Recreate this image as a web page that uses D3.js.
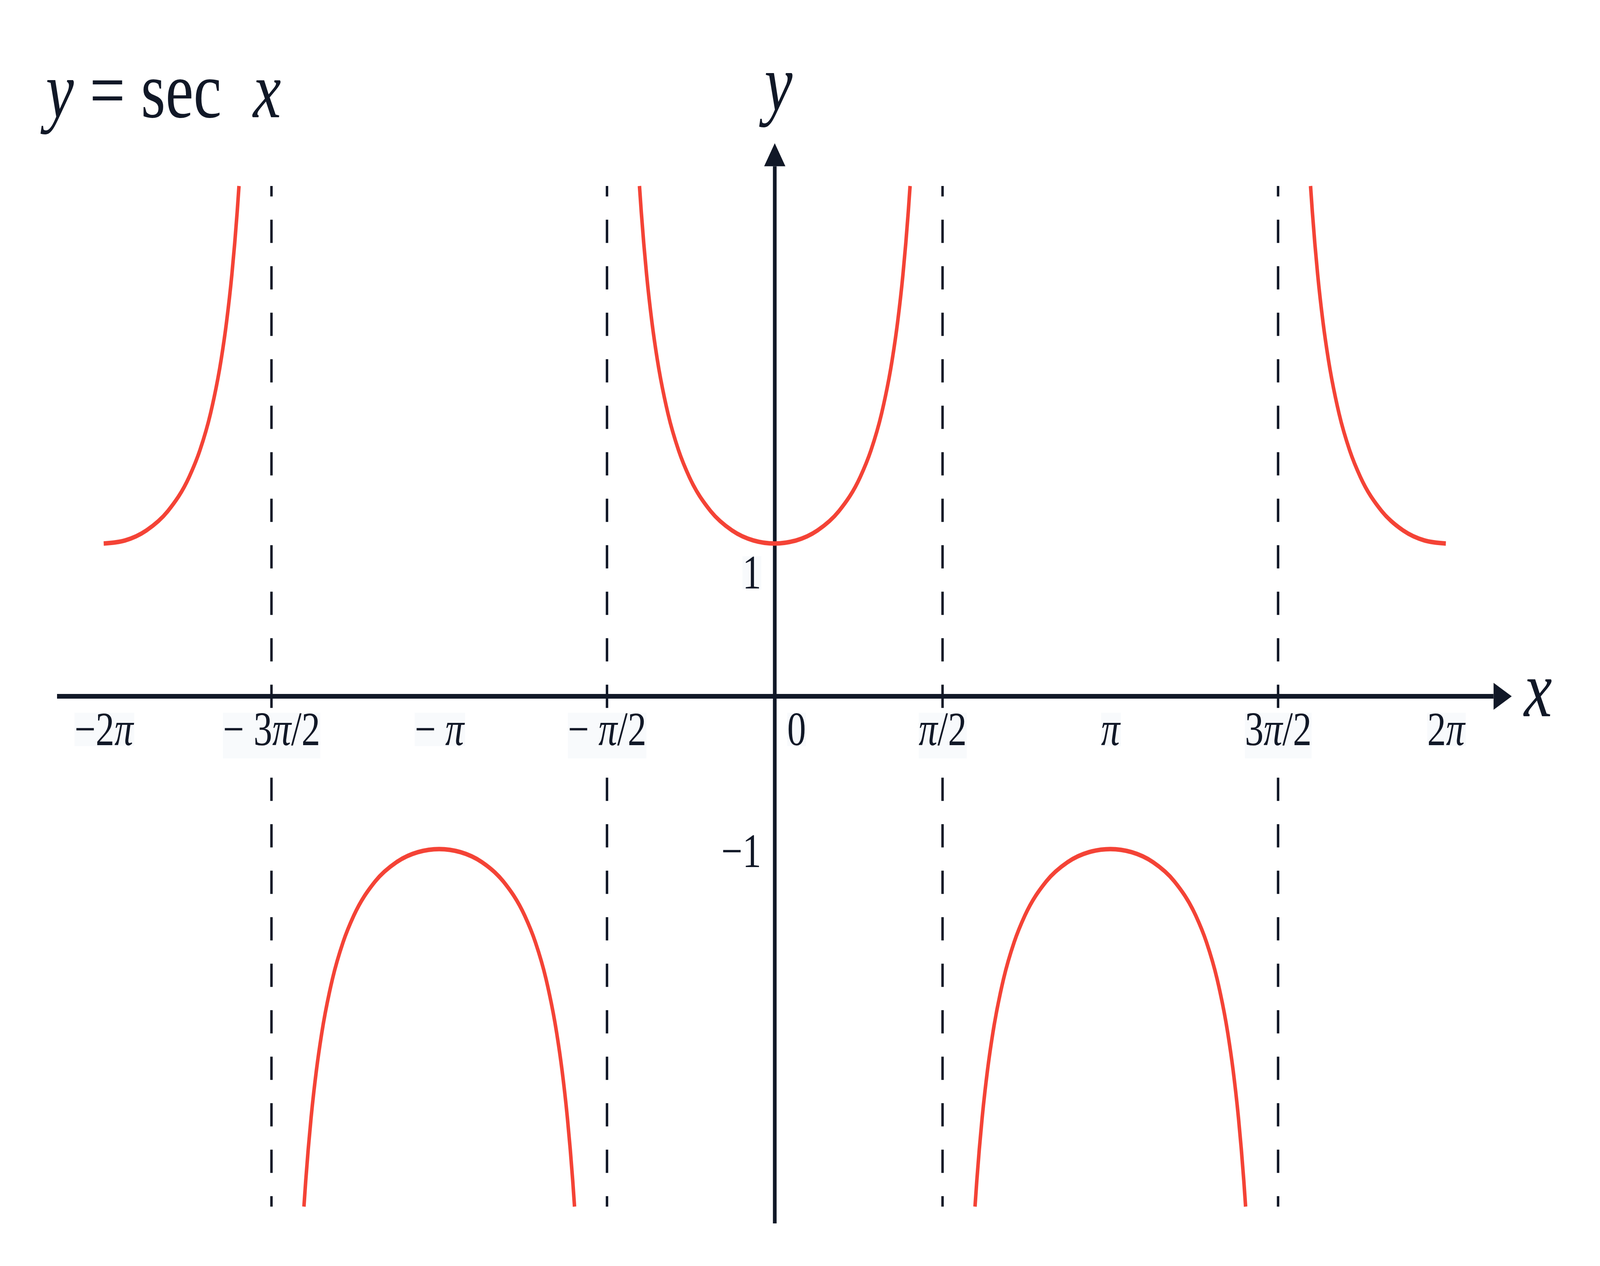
<!DOCTYPE html>
<html>
<head>
<meta charset="utf-8">
<title>y = sec x</title>
<script src="https://cdn.jsdelivr.net/npm/d3@7"></script>
<style>
html,body{margin:0;padding:0;background:#fff;width:100%;height:100%;overflow:hidden;}
#chart{width:100vw;height:100vh;}
svg{display:block;width:100%;height:100%;}
text{font-family:"Liberation Serif","DejaVu Serif",serif;fill:#111827;white-space:pre;}
</style>
</head>
<body>
<div id="chart"></div>
<script>
// y = sec x as [x (radians), y] pairs, one array per branch
const secLeftHalf = [[-6.2832,1],[-6.0832,1.0203],[-5.8832,1.0857],[-5.6832,1.2116],[-5.4832,1.4353],[-5.3832,1.6087],[-5.2832,1.8508],[-5.1832,2.2046],[-5.1332,2.4481],[-5.0832,2.7597],[-5.0332,3.1714],[-5.0164,3.34]];
const secLowerLeft = [[-4.4084,-3.34],[-4.3916,-3.1714],[-4.3416,-2.7597],[-4.2916,-2.4481],[-4.2416,-2.2046],[-4.1416,-1.8508],[-4.0416,-1.6087],[-3.9416,-1.4353],[-3.7416,-1.2116],[-3.5416,-1.0857],[-3.3416,-1.0203],[-3.1416,-1],[-2.9416,-1.0203],[-2.7416,-1.0857],[-2.5416,-1.2116],[-2.3416,-1.4353],[-2.2416,-1.6087],[-2.1416,-1.8508],[-2.0416,-2.2046],[-1.9916,-2.4481],[-1.9416,-2.7597],[-1.8916,-3.1714],[-1.8748,-3.34]];
const secCentral = [[-1.2668,3.34],[-1.25,3.1714],[-1.2,2.7597],[-1.15,2.4481],[-1.1,2.2046],[-1.0,1.8508],[-0.9,1.6087],[-0.8,1.4353],[-0.6,1.2116],[-0.4,1.0857],[-0.2,1.0203],[0,1],[0.2,1.0203],[0.4,1.0857],[0.6,1.2116],[0.8,1.4353],[0.9,1.6087],[1.0,1.8508],[1.1,2.2046],[1.15,2.4481],[1.2,2.7597],[1.25,3.1714],[1.2668,3.34]];
const secLowerRight = [[1.8748,-3.34],[1.8916,-3.1714],[1.9416,-2.7597],[1.9916,-2.4481],[2.0416,-2.2046],[2.1416,-1.8508],[2.2416,-1.6087],[2.3416,-1.4353],[2.5416,-1.2116],[2.7416,-1.0857],[2.9416,-1.0203],[3.1416,-1],[3.3416,-1.0203],[3.5416,-1.0857],[3.7416,-1.2116],[3.9416,-1.4353],[4.0416,-1.6087],[4.1416,-1.8508],[4.2416,-2.2046],[4.2916,-2.4481],[4.3416,-2.7597],[4.3916,-3.1714],[4.4084,-3.34]];
const secRightHalf = [[5.0164,3.34],[5.0332,3.1714],[5.0832,2.7597],[5.1332,2.4481],[5.1832,2.2046],[5.2832,1.8508],[5.3832,1.6087],[5.4832,1.4353],[5.6832,1.2116],[5.8832,1.0857],[6.0832,1.0203],[6.2832,1]];

const asymptotes = [-4.7124,-1.5708,1.5708,4.7124];
const xTicks = [-6.2832,-4.7124,-3.1416,-1.5708,0,1.5708,3.1416,4.7124,6.2832];
const xTickLabels = ["−2π","− 3π/2","− π","− π/2","0","π/2","π","3π/2","2π"];
const yTicks = [1,-1];
const yTickLabels = ["1","−1"];
const xAxisExtent = [-6.72,6.90];
const yAxisExtent = [-3.45,3.62];
const yLimit = 3.34;

const W=5200,H=3240;
const INK="#111827", RED="#f44336", FS=122;

// the window may be narrower than 5200, so the 5200x3240 drawing is fitted to it
const svg=d3.select("#chart").append("svg").attr("viewBox",`0 0 ${W} ${H}`)
  .attr("preserveAspectRatio","none");
svg.append("rect").attr("width",W).attr("height",H).attr("fill","#fff");

const x=d3.scaleLinear().domain([-6.2832,6.2832]).range([337,4699]);
const y=d3.scaleLinear().domain([-yLimit,yLimit]).range([3088,476]);

// x, y and pi in italic like the math font
function mathText(t,s){
  t.text(null);
  s.match(/[πxy]|[^πxy]+/g).forEach(p=>t.append("tspan").attr("font-style",/[πxy]/.test(p)?"italic":null).text(p));
}

// asymptotes, dashed outward from the x axis so a dash sits on the axis
const dash=59.5;
asymptotes.forEach(a=>{
  [yLimit,-yLimit].forEach(end=>{
    svg.append("line").attr("x1",x(a)).attr("x2",x(a)).attr("y1",y(0)).attr("y2",y(end))
      .attr("stroke",INK).attr("stroke-width",8)
      .attr("stroke-dasharray",`${dash} ${dash}`).attr("stroke-dashoffset",dash/2);
  });
});

// axes with arrow heads
const head=59, half=34.5;
svg.append("line").attr("x1",x(xAxisExtent[0])).attr("x2",x(xAxisExtent[1])-head)
  .attr("y1",y(0)).attr("y2",y(0)).attr("stroke",INK).attr("stroke-width",12);
svg.append("path").attr("fill",INK).attr("d",()=>{
  const tx=x(xAxisExtent[1]), ty=y(0);
  return `M${tx},${ty}L${tx-head},${ty-half}L${tx-head},${ty+half}Z`;
});
svg.append("line").attr("x1",x(0)).attr("x2",x(0))
  .attr("y1",y(yAxisExtent[0])).attr("y2",y(yAxisExtent[1])+head).attr("stroke",INK).attr("stroke-width",12);
svg.append("path").attr("fill",INK).attr("d",()=>{
  const tx=x(0), ty=y(yAxisExtent[1]);
  return `M${tx},${ty}L${tx-half},${ty+head}L${tx+half},${ty+head}Z`;
});

// the curve
const line=d3.line().x(d=>x(d[0])).y(d=>y(d[1])).curve(d3.curveMonotoneX);
[secLeftHalf,secLowerLeft,secCentral,secLowerRight,secRightHalf].forEach(b=>{
  svg.append("path").datum(b).attr("fill","none").attr("stroke",RED)
    .attr("stroke-width",11.5).attr("d",line);
});

// x tick labels
const gx=svg.append("g").attr("transform",`translate(0,${y(0)})`)
  .call(d3.axisBottom(x).tickValues(xTicks).tickFormat((d,i)=>xTickLabels[i]).tickSize(0));
gx.select(".domain").remove();
gx.attr("font-family",null);
gx.selectAll("text").attr("y",125).attr("dy",null).attr("font-size",FS).attr("fill",INK)
  .each(function(d,i){
    const t=d3.select(this);
    mathText(t,xTickLabels[i]);
    if(d===0) t.attr("text-anchor","start").attr("x",40);
  });

// y tick labels, the positive one pushed below the curve
const gy=svg.append("g").attr("transform",`translate(${x(0)},0)`)
  .call(d3.axisLeft(y).tickValues(yTicks).tickFormat((d,i)=>yTickLabels[i]).tickSize(0));
gy.select(".domain").remove();
gy.attr("font-family",null);
gy.selectAll("text").attr("x",-44).attr("dy",d=>d>0?115:45).attr("font-size",FS).attr("fill",INK);

// faint boxes behind the labels
[gx,gy].forEach(g=>g.selectAll(".tick").each(function(d){
  if(d<0 && g===gy) return;
  const tick=d3.select(this), tx=tick.select("text"), b=tx.node().getBBox();
  const slash=tx.text().includes("/");
  const base=+tx.attr("y")||0, dy=+tx.attr("dy")||0;
  tick.insert("rect","text").attr("x",b.x).attr("width",b.width)
    .attr("y",base+dy-0.68*FS).attr("height",(slash?0.96:0.7)*FS)
    .attr("fill","#f8fafc");
}));

// axis names and title
mathText(svg.append("text").attr("x",x(0)+12).attr("y",y(yAxisExtent[1])-85)
  .attr("text-anchor","middle").attr("font-size",205),"y");
mathText(svg.append("text").attr("x",x(xAxisExtent[1])+40).attr("y",y(0)+51)
  .attr("font-size",205),"x");
mathText(svg.append("text").attr("x",149).attr("y",300).attr("font-size",205),"y = sec  x");
</script>
</body>
</html>
